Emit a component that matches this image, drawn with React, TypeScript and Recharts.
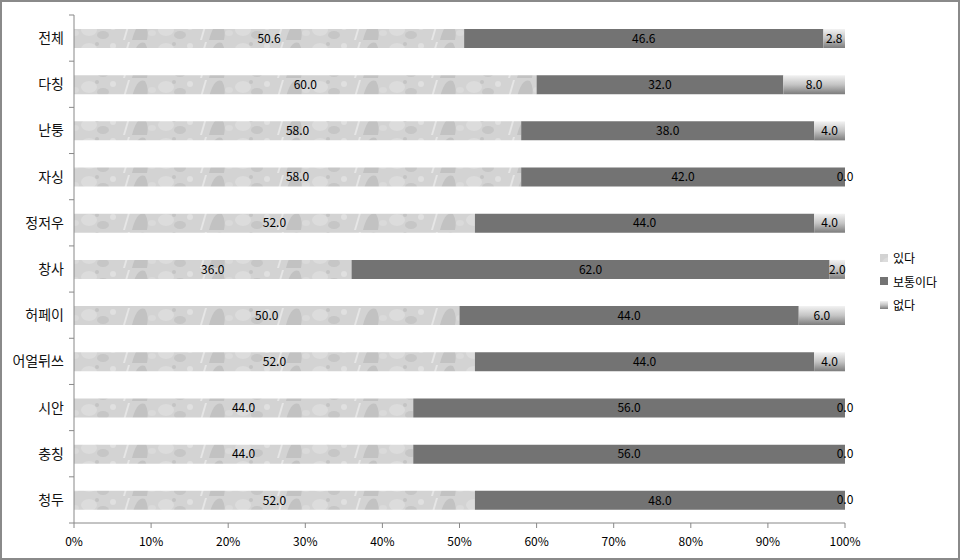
import React from 'react';
import { BarChart, Bar, XAxis, YAxis, LabelList } from 'recharts';

const CITIES = ['전체', '다칭', '난퉁', '자싱', '정저우', '창사', '허페이', '어얼뒤쓰', '시안', '충칭', '청두'];
const YES = [50.6, 60.0, 58.0, 58.0, 52.0, 36.0, 50.0, 52.0, 44.0, 44.0, 52.0];
const NORMAL = [46.6, 32.0, 38.0, 42.0, 44.0, 62.0, 44.0, 44.0, 56.0, 56.0, 48.0];
const NONE = [2.8, 8.0, 4.0, 0.0, 4.0, 2.0, 6.0, 4.0, 0.0, 0.0, 0.0];
const X_TICKS = [0, 10, 20, 30, 40, 50, 60, 70, 80, 90, 100];
const SERIES_NAMES = ['있다', '보통이다', '없다'];

const data = CITIES.map((name, i) => ({
    name,
    yes: YES[i],
    normal: NORMAL[i],
    none: NONE[i],
}));

const FONT = '"Noto Sans CJK KR", "Noto Sans", sans-serif';
const PLOT_H = 508;
const BAND = PLOT_H / CITIES.length;
const fmt = (v: any) => Number(v).toFixed(1);

function CityTick(props: any) {
    const { x, y, payload, index } = props;
    const last = index === CITIES.length - 1;
    return (
        <g>
            <line x1={x + 8} x2={x + 3} y1={y - BAND / 2} y2={y - BAND / 2} stroke="#888" />
            {last && <line x1={x + 8} x2={x + 3} y1={y + BAND / 2} y2={y + BAND / 2} stroke="#888" />}
            <text x={x - 2} y={y} dy={5} textAnchor="end" fontSize={14} fill="#111" fontFamily={FONT}>
                {payload.value}
            </text>
        </g>
    );
}

// zero-width "없다" segments draw no bar, so their 0.0 label is put at the end of the middle segment
function ZeroNoneLabel(props: any) {
    const { x, y, width, height, index } = props;
    if (NONE[index] !== 0) return null;
    return (
        <text x={x + width} y={y + height / 2} dy={4} textAnchor="middle" fontSize={12} fill="#000" fontFamily={FONT}>
            {fmt(NONE[index])}
        </text>
    );
}

function LegendBox() {
    const fills = ['url(#texture)', '#737373', 'url(#shade)'];
    return (
        <div style={{ position: 'absolute', left: 878, top: 244, fontFamily: FONT, fontSize: 12 }}>
            {SERIES_NAMES.map((n, i) => (
                <div key={n} style={{ display: 'flex', alignItems: 'center', height: 23.5 }}>
                    <svg width={8} height={8} style={{ marginRight: 5 }}>
                        <rect width={8} height={8} fill={fills[i]} />
                    </svg>
                    <span>{n}</span>
                </div>
            ))}
        </div>
    );
}

export default function App() {
    return (
        <div
            style={{
                position: 'fixed',
                left: 0,
                top: 0,
                width: 960,
                height: 560,
                boxSizing: 'border-box',
                border: '2px solid #8a8a8a',
                background: '#fff',
            }}
        >
            <svg width={0} height={0} style={{ position: 'absolute' }}>
                <defs>
                    <pattern id="texture" patternUnits="userSpaceOnUse" width={77} height={19}>
                        <rect width={77} height={19} fill="#d3d3d3" />
                        <ellipse cx={10} cy={9} rx={8} ry={6} fill="#dcdcdc" />
                        <ellipse cx={24} cy={14} rx={6} ry={4} fill="#c6c6c6" />
                        <circle cx={34} cy={6} r={3} fill="#e0e0e0" />
                        <path d="M44 19 L49 2 L51 2 L46 19 Z" fill="#e6e6e6" />
                        <path d="M53 19 Q58 0 66 3 Q70 10 68 19 Z" fill="#c2c2c2" />
                        <ellipse cx={73} cy={12} rx={4} ry={3} fill="#dadada" />
                        <circle cx={18} cy={4} r={2} fill="#c4c4c4" />
                    </pattern>
                    <linearGradient id="shade" x1="0" y1="0" x2="0" y2="1">
                        <stop offset="0%" stopColor="#f2f2f2" />
                        <stop offset="50%" stopColor="#c4c4c4" />
                        <stop offset="100%" stopColor="#7c7c7c" />
                    </linearGradient>
                </defs>
            </svg>
            <BarChart
                width={956}
                height={556}
                data={data}
                layout="vertical"
                margin={{ top: 13, right: 113, bottom: 5, left: 12 }}
                barSize={19}
                style={{ fontFamily: FONT }}
            >
                <XAxis
                    type="number"
                    domain={[0, 100]}
                    ticks={X_TICKS}
                    tickFormatter={(v: number) => `${v}%`}
                    stroke="#888"
                    tick={{ fill: '#000', fontSize: 12, fontFamily: FONT }}
                    tickSize={5}
                    tickMargin={9}
                    height={30}
                    interval={0}
                />
                <YAxis
                    type="category"
                    dataKey="name"
                    width={60}
                    stroke="#888"
                    tickLine={false}
                    tick={<CityTick />}
                    interval={0}
                />
                <Bar dataKey="yes" stackId="a" fill="url(#texture)" isAnimationActive={false}>
                    <LabelList dataKey="yes" position="center" formatter={fmt} fill="#000" fontSize={12} />
                </Bar>
                <Bar dataKey="normal" stackId="a" fill="#737373" isAnimationActive={false}>
                    <LabelList dataKey="normal" position="center" formatter={fmt} fill="#000" fontSize={12} />
                    <LabelList dataKey="normal" content={<ZeroNoneLabel />} />
                </Bar>
                <Bar dataKey="none" stackId="a" fill="url(#shade)" isAnimationActive={false}>
                    <LabelList dataKey="none" position="center" formatter={fmt} fill="#000" fontSize={12} />
                </Bar>
            </BarChart>
            <LegendBox />
        </div>
    );
}
